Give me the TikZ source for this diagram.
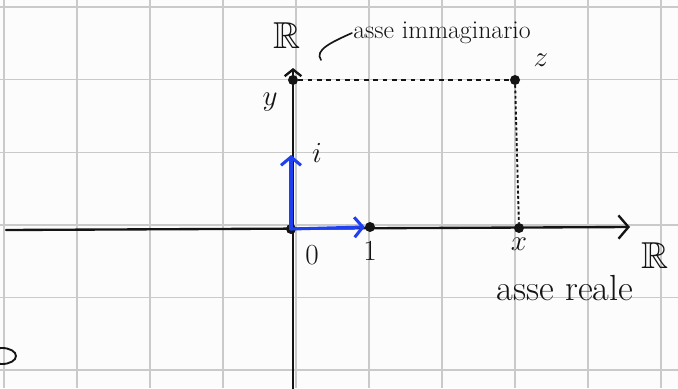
\documentclass[tikz,border=0pt]{standalone}
\usepackage{amssymb}
\usetikzlibrary{arrows.meta,positioning}
\definecolor{gridgrey}{HTML}{CACACA}
\definecolor{penblue}{HTML}{1F40F0}
\definecolor{paper}{HTML}{FCFCFC}
\definecolor{ink}{HTML}{141414}

\begin{document}
\begin{tikzpicture}[x=0.03cm,y=-0.03cm,
every node/.style={font=\fontsize{22}{24}\selectfont,text=ink,inner sep=1pt},
letter/.style={font=\fontsize{27}{29}\selectfont},
gridline/.style={draw=gridgrey,line width=1.2pt},
axis/.style={draw=ink,line width=2pt,line cap=round,-{Straight Barb[length=3mm,width=7mm,line width=2pt]}},
vec/.style={draw=penblue,line width=2.6pt,line cap=round,-{Straight Barb[length=2.5mm,width=6mm,line width=2.6pt]}},
dot/.style={circle,fill=ink,inner sep=0pt,minimum size=3mm},
guide/.style={draw=ink,line width=1.6pt,dash pattern=on 4pt off 4pt},
bigR/.style={font=\fontsize{32}{34}\selectfont}
]
% paper and squares
\fill[paper] (0,0) rectangle (678,388);
\useasboundingbox (0,0) rectangle (678,388);
\foreach \k in {0,...,9}
  \draw[gridline] ({4+73*\k},0) -- ({4+73*\k},388);
\foreach \k in {0,...,5}
  \draw[gridline] (0,{7+72.6*\k}) -- (678,{7+72.6*\k});

% points
\node[dot] (origin) at (291,229) {};
\node[dot] (one)    at (370,227) {};
\node[dot] (xpt)    at (519,228) {};
\node[dot] (zpt)    at (515,80)  {};
\node[dot] (ypt)    at (293,80)  {};
\coordinate (realL) at (6,230);
\coordinate (realR) at (630,227);
\coordinate (imB)   at (293,390);
\coordinate (imT)   at (293,68);
\coordinate (ipt)   at (291,155);

% axes
\draw[axis] (realL) -- (realR);
\draw[axis,-{Straight Barb[length=2mm,width=5mm,line width=2pt]}] (imB) -- (imT);

% projections of z
\draw[guide] (ypt) -- (zpt);
\draw[guide,dash pattern=on 2.5pt off 2pt] (zpt) -- (xpt);

% unit vectors
\draw[vec] (origin.center) -- (one.west);
\draw[vec] (origin.center) -- (ipt);

% labels
\node[bigR]          (imR)   at (287,36)  {$\mathbb{R}$};
\node[bigR]          (reR)   at (655,256) {$\mathbb{R}$};
\node                (imlab) at (442,33)  {asse immaginario};
\node[font=\fontsize{31}{33}\selectfont] (relab) at (565,288) {asse reale};
\node[letter]        (zlab)  at (541,60)  {$z$};
\node[letter]        (ylab)  at (270,102) {$y$};
\node[letter]        (ilab)  at (317,153) {$i$};
\node[letter]        (olab)  at (312,255) {$0$};
\node[letter,below=2.5mm of one]  (onelab) {$1$};
\node[letter,below=1mm of xpt]    (xlab)   {$x$};
\coordinate (hook) at (321,60);
\draw[draw=ink,line width=1.4pt,line cap=round] (imlab.west) .. controls (332,42) and (314,50) .. (hook);

% stray mark
\draw[draw=ink,line width=1.6pt] (2,356) ellipse [x radius=14, y radius=8];
\end{tikzpicture}
\end{document}
